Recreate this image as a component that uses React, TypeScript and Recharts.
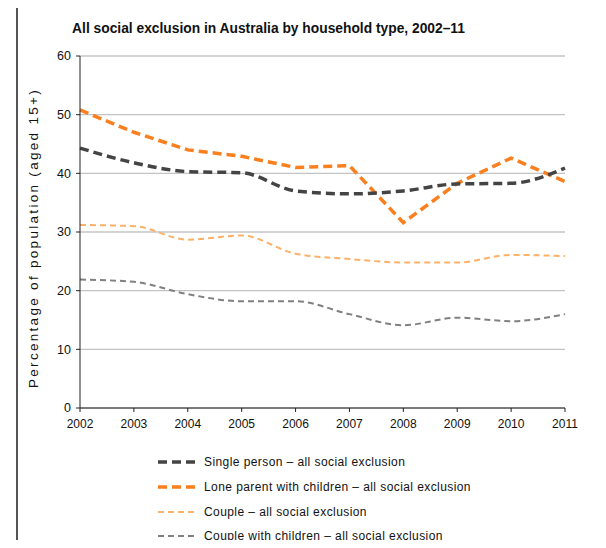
import React from 'react'
import { LineChart, Line, XAxis, YAxis, CartesianGrid } from 'recharts'

const YEARS = ['2002', '2003', '2004', '2005', '2006', '2007', '2008', '2009', '2010', '2011']
const SINGLE = [44.3, 41.8, 40.3, 40.1, 37.0, 36.5, 37.0, 38.2, 38.3, 40.9]
const LONE_PARENT = [50.8, 47.0, 44.0, 42.9, 41.0, 41.3, 31.6, 38.3, 42.6, 38.6]
const COUPLE = [31.2, 31.0, 28.7, 29.4, 26.3, 25.4, 24.8, 24.8, 26.1, 25.9]
const COUPLE_CHILDREN = [21.9, 21.5, 19.4, 18.2, 18.2, 16.0, 14.1, 15.4, 14.8, 16.0]
const Y_TICKS = [0, 10, 20, 30, 40, 50, 60]

const SERIES = [
  { key: 'single', name: 'Single person – all social exclusion', color: '#444444', width: 3.5, dash: '9 5', curve: 'monotone' },
  { key: 'lone', name: 'Lone parent with children – all social exclusion', color: '#FA7F1E', width: 3.5, dash: '9 5', curve: 'linear' },
  { key: 'couple', name: 'Couple – all social exclusion', color: '#FBB168', width: 2, dash: '6 4', curve: 'monotone' },
  { key: 'coupleKids', name: 'Couple with children – all social exclusion', color: '#808080', width: 2, dash: '6 4', curve: 'monotone' },
] as const

const data = YEARS.map((year, i) => ({
  year,
  single: SINGLE[i],
  lone: LONE_PARENT[i],
  couple: COUPLE[i],
  coupleKids: COUPLE_CHILDREN[i],
}))

const FONT = '"Liberation Sans", Arial, sans-serif'

function Legend() {
  return (
    <div style={{ position: 'absolute', left: 158, top: 450, fontFamily: FONT, fontSize: 12, letterSpacing: 0.42, color: '#111' }}>
      {SERIES.map((s) => (
        <div key={s.key} style={{ display: 'flex', alignItems: 'center', height: 24.7 }}>
          <svg width={42} height={8} style={{ marginRight: 4 }}>
            <line x1={0} y1={4} x2={40} y2={4} stroke={s.color} strokeWidth={s.width} strokeDasharray={s.dash} />
          </svg>
          <span>{s.name}</span>
        </div>
      ))}
    </div>
  )
}

export default function App() {
  return (
    <div style={{ position: 'relative', width: 606, height: 548, margin: -8, overflow: 'hidden', background: '#fff' }}>
      <div
        style={{
          position: 'absolute',
          left: 16,
          top: 6,
          width: 620,
          height: 600,
          borderLeft: '2px solid #555',
          borderTop: '2px solid #555',
        }}
      />
      <div
        style={{
          position: 'absolute',
          left: 0,
          width: 537,
          top: 21,
          textAlign: 'center',
          fontFamily: FONT,
          fontWeight: 'bold',
          fontSize: 13.8,
          color: '#111',
        }}
      >
        All social exclusion in Australia by household type, 2002–11
      </div>
      <div
        style={{
          position: 'absolute',
          left: 33,
          top: 238,
          transform: 'translate(-50%, -50%) rotate(-90deg)',
          whiteSpace: 'nowrap',
          fontFamily: FONT,
          fontSize: 13.5,
          letterSpacing: 2.3,
          color: '#111',
        }}
      >
        Percentage of population (aged 15+)
      </div>
      <div style={{ position: 'absolute', left: 0, top: 0 }}>
        <LineChart width={606} height={548} data={data} margin={{ top: 56, right: 41, bottom: 110, left: 40 }}>
          <CartesianGrid vertical={false} stroke="#C4C4C4" strokeWidth={1.3} />
          <XAxis
            dataKey="year"
            height={30}
            tickSize={4}
            axisLine={{ stroke: '#222' }}
            tickLine={{ stroke: '#222' }}
            tick={{ fill: '#111', fontSize: 12, fontFamily: FONT, dy: 5 }}
            interval={0}
          />
          <YAxis
            domain={[0, 60]}
            ticks={Y_TICKS}
            width={40}
            tickSize={4}
            axisLine={{ stroke: '#222' }}
            tickLine={{ stroke: '#222' }}
            tick={{ fill: '#111', fontSize: 12.5, fontFamily: FONT, dx: -3 }}
          />
          {SERIES.slice().reverse().map((s) => (
            <Line
              key={s.key}
              dataKey={s.key}
              type={s.curve}
              stroke={s.color}
              strokeWidth={s.width}
              strokeDasharray={s.dash}
              dot={false}
              isAnimationActive={false}
            />
          ))}
        </LineChart>
      </div>
      <Legend />
    </div>
  )
}
